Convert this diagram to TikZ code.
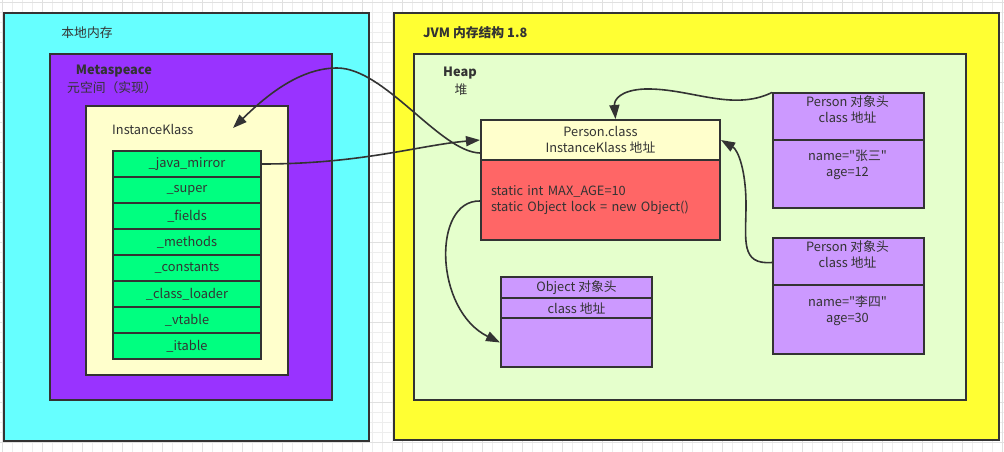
\documentclass[tikz,border=0pt]{standalone}
\usepackage{fontspec}
\newfontfamily\cjkfont{Noto Sans CJK SC}
\usetikzlibrary{arrows.meta}
\definecolor{edge}{HTML}{333333}
\definecolor{nativebg}{HTML}{66FFFF}
\definecolor{metabg}{HTML}{9933FF}
\definecolor{klassbg}{HTML}{FFFFCC}
\definecolor{fieldbg}{HTML}{00FF80}
\definecolor{jvmbg}{HTML}{FFFF33}
\definecolor{heapbg}{HTML}{E5FFCC}
\definecolor{staticbg}{HTML}{FF6666}
\definecolor{objbg}{HTML}{CC99FF}
\begin{document}
\begin{tikzpicture}[x=1pt,y=-1pt,
    box/.style={draw=edge,line width=2pt,anchor=north west,inner sep=0pt,
      text=edge,font=\cjkfont\fontsize{12.8}{16}\selectfont,align=center},
    txt/.style={text=edge,font=\cjkfont\fontsize{12.8}{16}\selectfont,inner sep=0pt,align=center},
    bold/.style={txt,font=\cjkfont\fontsize{12.8}{16}\selectfont\bfseries},
    gridline/.style={draw=black!7,line width=0.6pt},
    gridmajor/.style={draw=black!12,line width=0.8pt},
    ptr/.style={draw=edge,line width=1.6pt,-{Triangle[length=14pt,width=10pt]}}]
  \useasboundingbox (0,0) rectangle (1004,452);
  \fill[white] (0,0) rectangle (1004,452);
  % canvas grid
  \foreach \gx in {2,12,...,1002} \draw[gridline] (\gx,0) -- (\gx,452);
  \foreach \gy in {2,12,...,452} \draw[gridline] (0,\gy) -- (1004,\gy);
  \foreach \gx in {2,42,...,1002} \draw[gridmajor] (\gx,0) -- (\gx,452);
  \foreach \gy in {2,42,...,452} \draw[gridmajor] (0,\gy) -- (1004,\gy);

  % native memory side
  \node[box,fill=nativebg,minimum width=365pt,minimum height=428pt] (native) at (3,12) {};
  \node[txt] (nativelbl) at (87,33) {本地内存};
  \node[box,fill=metabg,minimum width=282pt,minimum height=346pt] (meta) at (49,53) {};
  \node[bold] (metalbl) at (114,71) {Metaspeace};
  \node[txt] (metasub) at (112,88) {元空间（实现）};
  \node[box,fill=klassbg,minimum width=202pt,minimum height=269pt] (klass) at (85,105) {};
  \node[txt,anchor=west] (klasslbl) at (112,129) {InstanceKlass};
  \foreach \f [count=\i from 0] in {\_java\_mirror,\_super,\_fields,\_methods,
      \_constants,\_class\_loader,\_vtable,\_itable}
    \node[box,fill=fieldbg,minimum width=148pt,minimum height=26pt] (f\i) at (112,150+26*\i) {\f};
  \coordinate (klassptr) at (233,128);

  % jvm side
  \node[box,fill=jvmbg,minimum width=605pt,minimum height=427pt] (jvm) at (393,12) {};
  \node[bold,anchor=west] (jvmlbl) at (423,33) {JVM 内存结构 1.8};
  \node[box,fill=heapbg,minimum width=552pt,minimum height=346pt] (heap) at (413,53) {};
  \node[bold] (heaplbl) at (460,73) {Heap};
  \node[txt] (heapsub) at (461,90) {堆};

  \node[box,fill=klassbg,minimum width=239pt,minimum height=40pt] (pclass) at (480,119)
    {Person.class\\InstanceKlass 地址};
  \node[box,fill=staticbg,minimum width=239pt,minimum height=80pt,text width=219pt,
    inner xsep=10pt,align=left] (pstatic) at (480,159)
    {static int MAX\_AGE=10\\static Object lock = new Object()};

  \node[box,fill=objbg,minimum width=151pt,minimum height=21pt] (objhead) at (500,276) {Object 对象头};
  \node[box,fill=objbg,minimum width=151pt,minimum height=20pt] (objcls) at (500,297) {class 地址};
  \node[box,fill=objbg,minimum width=151pt,minimum height=49pt] (objrest) at (500,317) {};

  \node[box,fill=objbg,minimum width=151pt,minimum height=47pt] (p1head) at (772,92) {};
  \node[box,fill=objbg,minimum width=151pt,minimum height=68pt] (p1body) at (772,139) {};
  \node[txt] (p1headlbl) at (847.5,109) {Person 对象头\\class 地址};
  \node[txt] (p1bodylbl) at (847.5,165) {name="张三"\\age=12};

  \node[box,fill=objbg,minimum width=151pt,minimum height=47pt] (p2head) at (772,237) {};
  \node[box,fill=objbg,minimum width=151pt,minimum height=69pt] (p2body) at (772,284) {};
  \node[txt] (p2headlbl) at (847.5,254) {Person 对象头\\class 地址};
  \node[txt] (p2bodylbl) at (847.5,311) {name="李四"\\age=30};

  % pointers
  \draw[ptr] (f0.east) .. controls +(100,0) and +(-60,5) .. (pclass.west);
  \draw[ptr] ([yshift=-13pt]pclass.west) .. controls (440,152) and (385,68) .. (337,68)
    .. controls (297,68) and (262,100) .. (klassptr);
  \draw[ptr] ([yshift=24pt]p1head.west) .. controls (732,112) and (690,88) .. (645,89)
    .. controls (620,90) and (614,100) .. ([xshift=15pt]pclass.north);
  \draw[ptr] ([yshift=-1pt]p2head.west) .. controls (740,265) and (746,240) .. (746,205)
    .. controls (746,170) and (738,150) .. (pclass.east);
  \draw[ptr] ([yshift=-1pt]pstatic.west) .. controls (432,200) and (434,310) .. (objrest.west);
\end{tikzpicture}
\end{document}
